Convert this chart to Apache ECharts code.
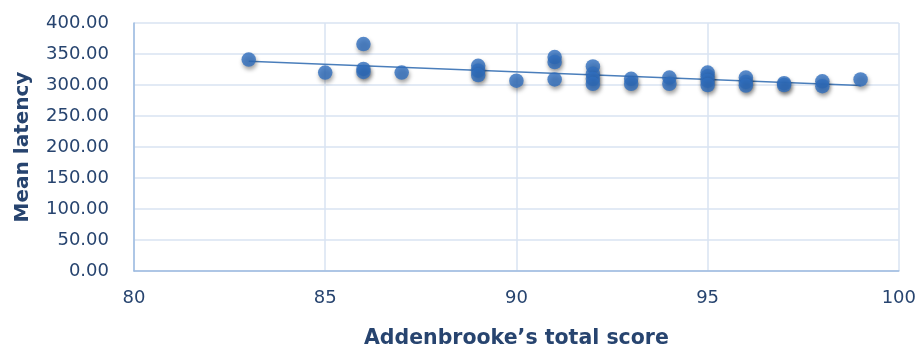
<!DOCTYPE html>
<html>
<head>
<meta charset="utf-8">
<script src="https://cdn.jsdelivr.net/npm/echarts@6/dist/echarts.min.js"></script>
<style>
  html, body { margin: 0; padding: 0; background: #ffffff; }
  #chart { width: 919px; height: 354px; }
</style>
</head>
<body>
<div id="chart"></div>
<script>
// Addenbrooke's total score per participant
const scores = [
  83, 85, 86, 86, 86, 87, 89, 89, 89, 90, 91, 91, 91,
  92, 92, 92, 92, 93, 93, 94, 94, 95, 95, 95, 95,
  96, 96, 96, 97, 97, 98, 98, 99
];
// Mean latency per participant
const latencies = [
  341, 320, 366, 326, 321, 320, 331, 323, 316, 307, 345, 337, 309,
  330, 318, 310, 302, 310, 302, 312, 302, 320, 314, 307, 300,
  312, 305, 299, 303, 300, 306, 298, 309
];
const yTicks = [0, 50, 100, 150, 200, 250, 300, 350, 400];
const xTicks = [80, 85, 90, 95, 100];

// Least-squares trend line across the observed score range
function linearFit(xs, ys) {
  const n = xs.length;
  const mx = xs.reduce((a, b) => a + b, 0) / n;
  const my = ys.reduce((a, b) => a + b, 0) / n;
  let sxy = 0, sxx = 0;
  for (let i = 0; i < n; i++) {
    sxy += (xs[i] - mx) * (ys[i] - my);
    sxx += (xs[i] - mx) * (xs[i] - mx);
  }
  const slope = sxy / sxx;
  return { slope, intercept: my - slope * mx };
}
const fit = linearFit(scores, latencies);
const xMin = Math.min(...scores), xMax = Math.max(...scores);
const trend = [
  [xMin, fit.intercept + fit.slope * xMin],
  [xMax, fit.intercept + fit.slope * xMax]
];

const points = scores.map((s, i) => [s, latencies[i]]);

const textColor = '#27446f';
const gridColor = '#d9e3f2';
const axisColor = '#9dbbe0';
const font = 'DejaVu Sans';

const chart = echarts.init(document.getElementById('chart'), null, { renderer: 'canvas' });
chart.setOption({
  animation: false,
  backgroundColor: '#ffffff',
  grid: { left: 134, right: 20, top: 23, bottom: 81 },
  xAxis: {
    type: 'value',
    min: xTicks[0], max: xTicks[xTicks.length - 1], interval: 5,
    name: 'Addenbrooke\u2019s total score',
    nameLocation: 'middle',
    nameGap: 57,
    nameTextStyle: { color: textColor, fontFamily: font, fontSize: 20.5, fontWeight: 'bold' },
    axisLine: { show: true, lineStyle: { color: axisColor, width: 1.5 } },
    axisTick: { show: false },
    axisLabel: { color: textColor, fontFamily: font, fontSize: 18, margin: 18 },
    splitLine: { show: true, lineStyle: { color: gridColor, width: 1.5 } }
  },
  yAxis: {
    type: 'value',
    min: yTicks[0], max: yTicks[yTicks.length - 1], interval: 50,
    name: 'Mean latency',
    nameLocation: 'middle',
    nameGap: 101,
    nameTextStyle: { color: textColor, fontFamily: font, fontSize: 20, fontWeight: 'bold' },
    axisLine: { show: true, lineStyle: { color: axisColor, width: 1.5 } },
    axisTick: { show: false },
    axisLabel: {
      color: textColor, fontFamily: font, fontSize: 18, margin: 25,
      formatter: v => v.toFixed(2)
    },
    splitLine: { show: true, lineStyle: { color: gridColor, width: 1.5 } }
  },
  series: [
    {
      type: 'line',
      data: trend,
      symbol: 'none',
      silent: true,
      lineStyle: { color: '#4a7ebb', width: 1.5 },
      z: 1
    },
    {
      type: 'scatter',
      data: points,
      symbolSize: 14.5,
      itemStyle: {
        color: '#2f6ebe',
        shadowColor: 'rgba(0,0,0,0.45)',
        shadowBlur: 4,
        shadowOffsetX: 1,
        shadowOffsetY: 3
      },
      z: 2
    }
  ]
});
</script>
</body>
</html>
